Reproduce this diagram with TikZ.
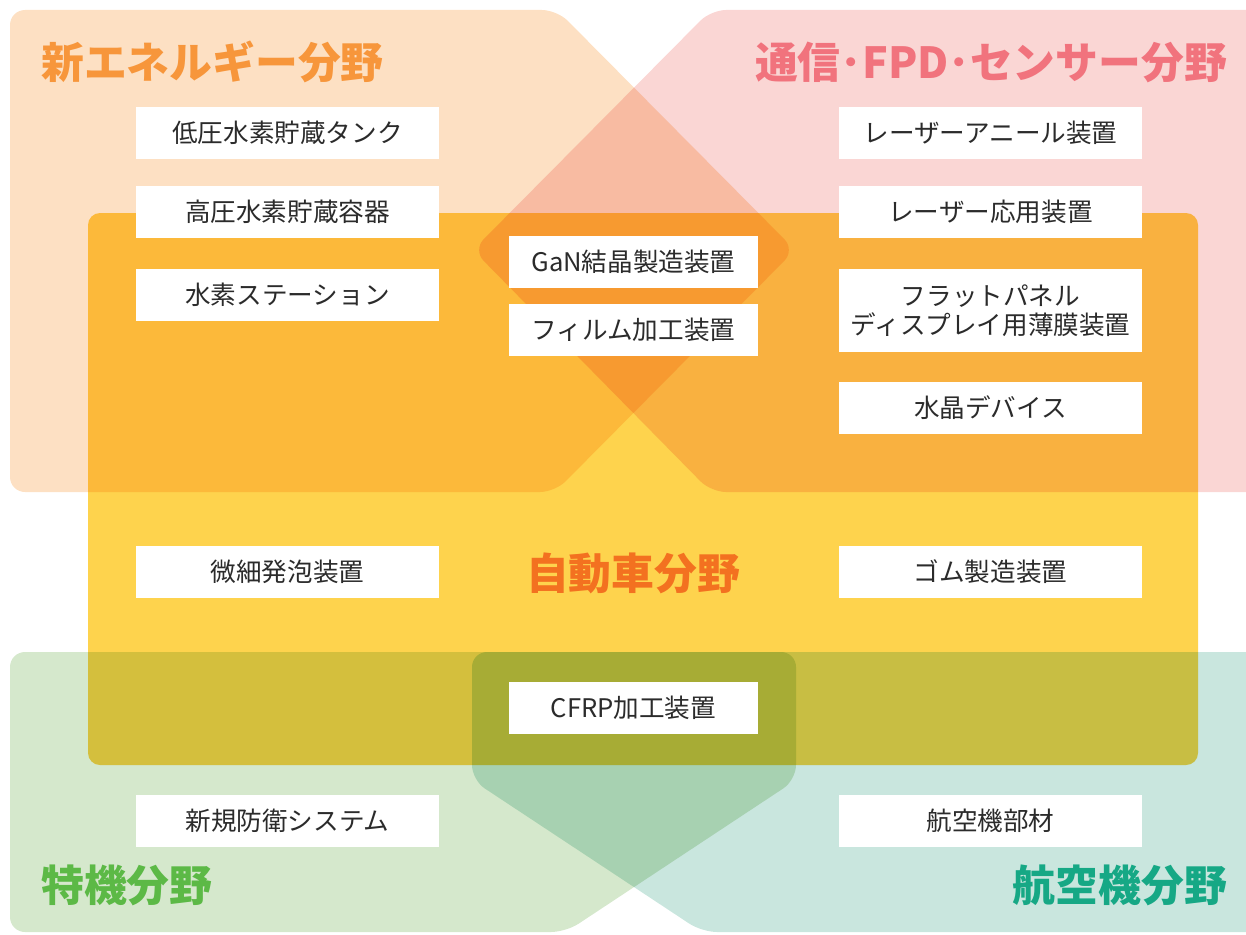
\documentclass[tikz,border=0pt]{standalone}
\usepackage{fontspec}
\setmainfont{Noto Sans CJK JP}
\definecolor{cpeach}{HTML}{FDE0C3}
\definecolor{cpink}{HTML}{FAD6D4}
\definecolor{cyellow}{HTML}{FED34D}
\definecolor{cgreen}{HTML}{D5E8CC}
\definecolor{cteal}{HTML}{C9E6DE}
\definecolor{torange}{HTML}{F7963B}
\definecolor{tpink}{HTML}{F1737D}
\definecolor{tauto}{HTML}{F37120}
\definecolor{tgreen}{HTML}{5CB946}
\definecolor{tteal}{HTML}{16A885}
\definecolor{ctext}{HTML}{2B2B2B}
\begin{document}
\begin{tikzpicture}[x=1pt,y=-1pt,
  area/.style={blend mode=multiply, rounded corners=15},
  item/.style={fill=white, inner sep=0pt, minimum height=52pt, text=ctext,
    align=center, font=\fontsize{25.6}{29.5}\selectfont},
  sidebox/.style={item, minimum width=303pt},
  midbox/.style={item, minimum width=249pt},
  title/.style={inner sep=0pt, font=\bfseries\fontsize{42.8}{46}\selectfont}]
\clip (0,0) rectangle (1246,934);
% regions
\fill[cpeach, area] (200,10) -- (557,10) -- (795,250) -- (555,492) -- (10,492) -- (10,10) -- cycle;
\fill[cpink, area] (900,10) -- (1280,10) -- (1280,492) -- (711,492) -- (473,250) -- (711,10) -- cycle;
\fill[cyellow, blend mode=multiply, rounded corners=12] (88,213) rectangle (1198,765);
\fill[cgreen, area] (300,652) -- (796,652) -- (796,780) -- (566,932) -- (10,932) -- (10,652) -- cycle;
\fill[cteal, area] (900,652) -- (1280,652) -- (1280,932) -- (702,932) -- (472,780) -- (472,652) -- cycle;
% titles
\node[title, text=torange, anchor=west] (tnew) at (41,62) {新エネルギー分野};
\node[title, text=tpink, anchor=east] (tcom) at (1227,62) {通信･FPD･センサー分野};
\node[title, text=tauto] (tauto) at (633,573) {自動車分野};
\node[title, text=tgreen, anchor=west] (tspec) at (41,885) {特機分野};
\node[title, text=tteal, anchor=east] (tair) at (1227,885) {航空機分野};
% left column
\node[sidebox] (l1) at (287.5,133) {低圧水素貯蔵タンク};
\node[sidebox] (l2) at (287.5,212) {高圧水素貯蔵容器};
\node[sidebox] (l3) at (287.5,295) {水素ステーション};
\node[sidebox] (l4) at (287.5,572) {微細発泡装置};
\node[sidebox] (l5) at (287.5,821) {新規防衛システム};
% middle column
\node[midbox] (m1) at (633.5,262) {GaN結晶製造装置};
\node[midbox] (m2) at (633.5,330) {フィルム加工装置};
\node[midbox] (m3) at (633.5,708) {CFRP加工装置};
% right column
\node[sidebox] (r1) at (990.5,133) {レーザーアニール装置};
\node[sidebox] (r2) at (990.5,212) {レーザー応用装置};
\node[sidebox, minimum height=83pt] (r3) at (990.5,310.5) {フラットパネル\\ディスプレイ用薄膜装置};
\node[sidebox] (r4) at (990.5,408) {水晶デバイス};
\node[sidebox] (r5) at (990.5,572) {ゴム製造装置};
\node[sidebox] (r6) at (990.5,821) {航空機部材};
\end{tikzpicture}
\end{document}
